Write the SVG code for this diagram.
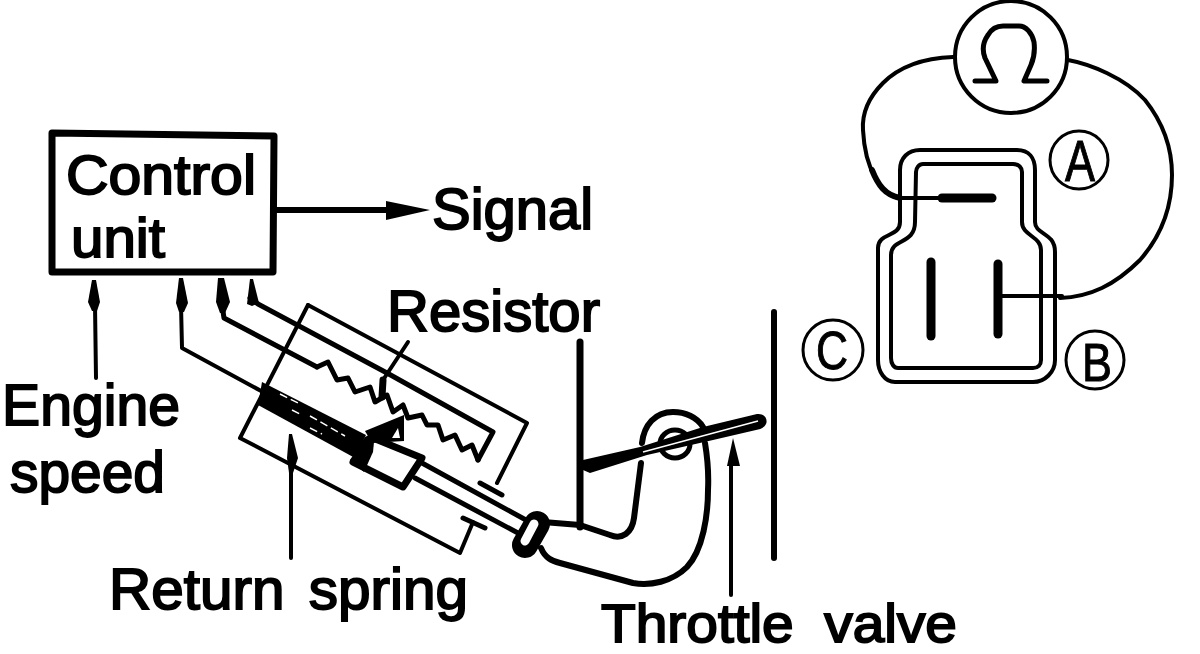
<svg xmlns="http://www.w3.org/2000/svg" width="1200" height="654" viewBox="0 0 1200 654">
<style>
text{font-family:"Liberation Sans",Arial,sans-serif;fill:#000;stroke:#000;stroke-width:1.9;font-size:58px}
.l{fill:none;stroke:#000;stroke-linejoin:round;stroke-linecap:round}
.s3{stroke-width:3}.s4{stroke-width:4}.s5{stroke-width:5}.s6{stroke-width:6}.s7{stroke-width:7}.s9{stroke-width:9}
.f{fill:#000;stroke:none}
.c{stroke-width:1}
</style>
<rect width="1200" height="654" fill="#fff"/>
<g id="connectors">
<path class="l s6" d="M276 210H395"/>
<path class="f" d="M386 201L430 210L386 220Z"/>
<path class="l s4" d="M95 305L96 378"/>
<path class="f" d="M92 280H96L100 302L97 311H92L88 302Z"/>
<path class="l s4" d="M181 305L182 348L263 392"/>
<path class="f" d="M179 278H183L188 303L184 312H179L176 303Z"/>
<path class="l s5" d="M222 305L224 318L317 367"/>
<path class="f" d="M218 278H224L230 302L225 313H220L216 302Z"/>
<path class="l s5" d="M250 298L258 304L387 373"/>
<path class="f" d="M250 279H253L259 303L252 306L247 304Z"/>
<path class="l s4" d="M291 465V558"/>
<path class="f" d="M289 434H292L298 458L293 473H289L287 458Z"/>
<path class="l s4" d="M731 460V595"/>
<path class="f" d="M733 438L740 466H727Z"/>
<path class="l s4" d="M408 342L383 380"/>
</g>
<g id="control-unit">
<path class="l s7" d="M52 133L274 136L273 272H52Z"/>
<text x="66" y="194" style="font-size:56px" textLength="190" lengthAdjust="spacingAndGlyphs">Control</text>
<text x="71" y="257" style="font-size:56px" textLength="94" lengthAdjust="spacingAndGlyphs">unit</text>
</g>
<g id="signal-label"><text x="432" y="229" textLength="161" lengthAdjust="spacingAndGlyphs">Signal</text></g>
<g id="engine-speed-label"><text x="2" y="425" textLength="178" lengthAdjust="spacingAndGlyphs">Engine</text><text x="10" y="492" textLength="155" lengthAdjust="spacingAndGlyphs">speed</text></g>
<g id="resistor-label"><text x="387" y="331" textLength="213" lengthAdjust="spacingAndGlyphs">Resistor</text></g>
<g id="return-spring-label"><text x="109" y="609" textLength="359" lengthAdjust="spacingAndGlyphs" style="word-spacing:8px">Return spring</text></g>
<g id="throttle-valve-label"><text x="601" y="642" textLength="356" lengthAdjust="spacingAndGlyphs" style="font-size:54px;word-spacing:14px">Throttle valve</text></g>
<g id="sensor">
<path class="l s4" d="M308 305L527 423L497 483"/>
<path class="l s5" d="M480 483L502 495"/>
<path class="l s4" d="M308 305L240 438L460 553L473 522"/>
<path class="l s5" d="M463 518L485 528"/>
<path class="l s5" d="M317 367L328 362L337 380L348 378L355 392L370 387L375 402L387 395L393 412L403 405L408 418L422 415L427 425L438 425L443 440L455 435L462 450L472 445L478 460"/>
<path class="l s5" d="M387 373L493 432L478 460"/>
<path class="l s7" d="M383 380L382 397"/>
<path class="f" d="M404 415L365 431L372 443L404 441Z"/>
<path d="M392 438L398 428L400 438Z" fill="#fff"/>
<path class="f" d="M262 382L366 435L355 458L258 405Z"/>
<path d="M280 394L300 404M292 410L300 414M310 416L345 436M310 428L322 434" stroke="#fff" stroke-width="1.5" stroke-dasharray="8 4" fill="none"/>
<path class="l s7" d="M373 438L422 458L403 487L353 462"/>
<path class="f" d="M350 460L365 437L375 432L373 452L364 472Z"/>
<path class="l s5" d="M422 463L526 520M415 478L518 533"/>
<path class="l" stroke-width="26" d="M537 524L525 545"/>
<path class="l" stroke-width="9" style="stroke:#fff" d="M534 524L525 541"/>
</g>
<g id="throttle">
<path class="l s7" d="M580 342V527"/>
<path class="l s6" d="M543 522L580 525L610 535C622 540 632 533 634 518L641 463"/>
<path class="l s6" d="M541 548C545 558 552 561 560 563L633 583C650 586 672 582 687 567C703 550 708 515 708 490C709 470 707 455 705 443"/>
<path class="l s6" d="M642 443C644 425 655 412 673 412C685 412 697 417 703 427"/>
<ellipse class="l s5" cx="675" cy="444" rx="15" ry="14"/>
<path class="f" d="M583 460L640 447L703 427L757 414C765 413 768 420 766 424C764 428 760 429 756 430L713 440L647 455L590 473L583 470Z"/>
<path d="M643 452L758 421" stroke="#fff" stroke-width="1.5"/>
<path class="l s6" d="M774 312V558"/>
</g>
<g id="connector-plug">
<circle class="l s4" cx="1011" cy="57" r="56"/>
<path class="l s5" d="M975 81H996L985 58C982 50 983 42 988 35C992 28 998 26 1003 26H1019C1026 26 1032 33 1034 42C1035 50 1034 58 1031 65L1024 81H1047"/>
<path class="l s4" d="M953 57C925 58 900 66 883 83C866 100 862 115 863 130C864 150 868 165 875 177"/>
<path class="l s6" d="M872 170C878 185 885 195 900 198"/>
<path class="l s4" d="M1068 60C1090 64 1125 78 1145 100C1165 125 1172 150 1172 175C1172 205 1162 235 1140 260C1115 285 1090 297 1060 298"/>
<path class="l s4" d="M900 170C900 158 908 150 920 150H1017C1029 150 1035 158 1035 170V222C1035 235 1055 232 1055 252V360C1055 372 1045 382 1033 382H895C885 382 878 372 878 360V248C878 232 900 238 900 222Z"/>
<path class="l s4" d="M916 172C916 168 919 164 923 164H1013C1019 164 1022 168 1022 172V222C1022 236 1041 236 1041 250V360C1041 365 1038 368 1033 368H898C894 368 891 364 891 358V255C891 238 915 245 915 222Z"/>
<path class="l s4" d="M897 198H942"/>
<path class="l s9" d="M942 198H992"/>
<path class="l s9" d="M931 262V336"/>
<path class="l s9" d="M998 264V334"/>
<path class="l s4" d="M1002 296H1062"/>
<circle class="l s3" cx="1079" cy="160" r="29"/>
<text class="c" x="1065" y="181" textLength="30" lengthAdjust="spacingAndGlyphs">A</text>
<circle class="l s3" cx="1095" cy="360" r="29"/>
<text class="c" x="1082" y="381" style="font-size:54px" textLength="30" lengthAdjust="spacingAndGlyphs">B</text>
<circle class="l s3" cx="833" cy="350" r="30"/>
<text class="c" x="816" y="369" style="font-size:54px" textLength="32" lengthAdjust="spacingAndGlyphs">C</text>
</g>
</svg>
